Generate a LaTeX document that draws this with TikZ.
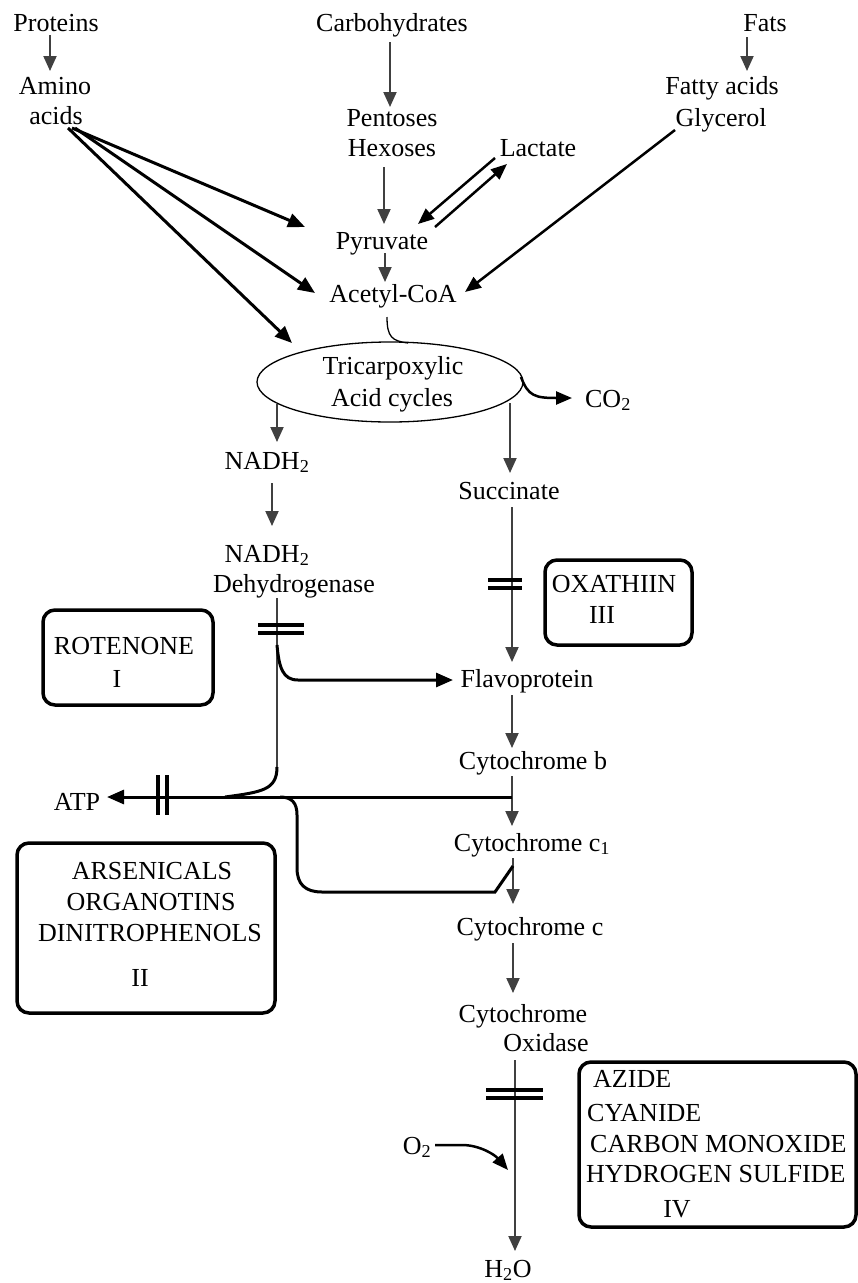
\documentclass[tikz,border=0pt]{standalone}
\usepackage{fontspec}
\setmainfont{Liberation Serif}
\usetikzlibrary{arrows.meta,shapes.geometric}
\newcommand\fsz{\fontsize{26}{30}\selectfont}
\begin{document}
\begin{tikzpicture}[x=1pt,y=-1pt,
 lbl/.style={font=\fsz, inner sep=0pt, text height=18pt, text depth=0pt},
 conn/.style={draw=black!75, line width=2pt, -{Triangle[length=15pt,width=13pt]}},
 bold/.style={draw=black, line width=3pt},
 boldarr/.style={bold, -{Triangle[length=17pt,width=14pt]}},
 midarr/.style={draw=black, line width=2.5pt, -{Triangle[length=16pt,width=13pt]}},
 bar/.style={draw=black, line width=3.3pt},
 ibox/.style={draw=black, line width=3.5pt, rounded corners=12pt, inner sep=0pt}]
\useasboundingbox (0,0) rectangle (858,1283);
\fill[white] (0,0) rectangle (858,1283);

% ---------- text nodes ----------
\node[lbl] (prot) at (56,22) {Proteins};
\node[lbl] (aminoA) at (55,85) {Amino};
\node[lbl] (aminoB) at (56,115) {acids};
\node[lbl] (carb) at (392,22) {Carbohydrates};
\node[lbl] (pentA) at (392,117) {Pentoses};
\node[lbl] (pentB) at (392,147) {Hexoses};
\node[lbl] (pyr) at (382,240) {Pyruvate};
\node[lbl] (acoa) at (393,293) {Acetyl-CoA};
\node[lbl] (lact) at (538,147) {Lactate};
\node[lbl] (fats) at (765,22) {Fats};
\node[lbl] (fattyA) at (722,85) {Fatty acids};
\node[lbl] (fattyB) at (721,117) {Glycerol};
\node[draw=black, line width=1.3pt, ellipse, minimum width=266pt, minimum height=80pt, inner sep=0pt] (tca) at (390,382) {};
\node[lbl] (tcaA) at (393,365) {Tricarpoxylic};
\node[lbl] (tcaB) at (392,397) {Acid cycles};
\node[lbl] (co2) at (608,398) {CO\textsubscript{2}};
\node[lbl] (nadh1) at (267,460) {NADH\textsubscript{2}};
\node[lbl] (nadh2A) at (267,553) {NADH\textsubscript{2}};
\node[lbl] (nadh2B) at (294,583) {Dehydrogenase};
\node[lbl] (succ) at (509,490) {Succinate};
\node[lbl] (flavo) at (527,678) {Flavoprotein};
\node[lbl] (cytb) at (533,760) {Cytochrome b};
\node[lbl] (cytc1) at (532,842) {Cytochrome c\textsubscript{1}};
\node[lbl] (cytc) at (530,926) {Cytochrome c};
\node[lbl] (cyoA) at (523,1013) {Cytochrome};
\node[lbl] (cyoB) at (546,1042) {Oxidase};
\node[lbl] (h2o) at (508,1268) {H\textsubscript{2}O};
\node[lbl] (o2) at (417,1145) {O\textsubscript{2}};
\node[lbl] (atp) at (77,801) {ATP};

% ---------- inhibitor boxes ----------
\node[ibox, minimum width=147pt, minimum height=85pt] (oxabox) at (618.5,602.5) {};
\node[lbl] (oxaA) at (614,583) {OXATHIIN};
\node[lbl] (oxaB) at (602,614) {III};

\node[ibox, minimum width=170pt, minimum height=95pt] (rotbox) at (128,657.5) {};
\node[lbl] (rotA) at (124,645) {ROTENONE};
\node[lbl] (rotB) at (117,678) {I};

\node[ibox, minimum width=258pt, minimum height=170pt] (arsbox) at (146,928) {};
\node[lbl] (arsA) at (152,870) {ARSENICALS};
\node[lbl] (arsB) at (151,901) {ORGANOTINS};
\node[lbl] (arsC) at (150,932) {DINITROPHENOLS};
\node[lbl] (arsD) at (140,977) {II};

\node[ibox, minimum width=277pt, minimum height=165pt] (azbox) at (717.5,1144.5) {};
\node[lbl, anchor=west] (azA) at (593,1078) {AZIDE};
\node[lbl, anchor=west] (azB) at (587,1112) {CYANIDE};
\node[lbl, anchor=west] (azC) at (590,1143) {CARBON MONOXIDE};
\node[lbl, anchor=west] (azD) at (586,1173) {HYDROGEN SULFIDE};
\node[lbl] (azE) at (677,1208) {IV};

% ---------- connector end points ----------
\coordinate (aa1) at (72,128);
\coordinate (aa2) at (75,128);
\coordinate (aa3) at (68,128);
\coordinate (pyrL) at (305,227);
\coordinate (acoaL) at (315,293);
\coordinate (tcaTL) at (292,343);
\coordinate (lactS) at (495,158);
\coordinate (pyrR) at (418,224);
\coordinate (pyrR2) at (435,227);
\coordinate (lactSW) at (507,164);
\coordinate (glyS) at (675,130);
\coordinate (acoaR) at (465,292);
\coordinate (nadhTop) at (277,598);
\coordinate (nadhSplit) at (277,645);
\coordinate (nadhLow) at (277,767);
\coordinate (flavoW) at (453,680);
\coordinate (hR) at (512,797);
\coordinate (hL) at (107,797);
\coordinate (loopS) at (280,797);
\coordinate (loopE) at (513,866);

% ---------- simple vertical arrows ----------
\draw[conn] (50,35) -- (50,71);
\draw[conn] (390,42) -- (390,107);
\draw[conn] (384,167) -- (384,224);
\draw[conn] (385,253) -- (385,282);
\draw[conn] (747,37) -- (747,71);
\draw[conn] (277,404) -- (277,442);
\draw[conn] (272,483) -- (272,526);
\draw[conn] (510,403) -- (510,473);
\draw[conn] (512,507) -- (512,662);
\draw[conn] (512,695) -- (512,748);
\draw[conn] (512,776) -- (512,826);
\draw[conn] (513,858) -- (513,904);
\draw[conn] (513,943) -- (513,993);
\draw[conn] (515,1060) -- (515,1251);

% ---------- diagonal arrows ----------
\draw[boldarr] (aa1) -- (pyrL);
\draw[boldarr] (aa2) -- (acoaL);
\draw[boldarr] (aa3) -- (tcaTL);
\draw[midarr] (lactS) -- (pyrR);
\draw[midarr] (pyrR2) -- (lactSW);
\draw[midarr] (glyS) -- (acoaR);

% Acetyl-CoA into the cycle
\draw[line width=1.3pt] (387,317) .. controls (387,337) and (392,341) .. (408,343);
% CO2 release
\draw[midarr] (521,377) .. controls (528,396) and (535,398) .. (572,398);

% ---------- NADH dehydrogenase branch ----------
\draw[draw=black!75, line width=2pt] (nadhTop) -- (nadhLow);
\draw[boldarr] (nadhSplit) .. controls (279,668) and (283,680) .. (298,680) -- (flavoW);
\draw[bold] (nadhLow) .. controls (277,790) and (262,792) .. (225,797);

% ---------- ATP line and loop ----------
\draw[boldarr] (hR) -- (hL);
\draw[bold] (loopS) .. controls (292,797) and (297,803) .. (297,815) -- (297,868)
  .. controls (297,884) and (305,892) .. (322,892) -- (495,892) -- (loopE);

% ---------- O2 ----------
\draw[midarr] (435,1145) -- (462,1145) .. controls (480,1145) and (495,1155) .. (508,1170);

% ---------- blocking bars ----------
\draw[bar] (488,580) -- (522,580) (488,588) -- (522,588);
\draw[bar] (258,625) -- (304,625) (258,633) -- (304,633);
\draw[bar] (158,775) -- (158,815) (167,775) -- (167,815);
\draw[bar] (486,1090) -- (543,1090) (486,1098) -- (543,1098);
\end{tikzpicture}
\end{document}
